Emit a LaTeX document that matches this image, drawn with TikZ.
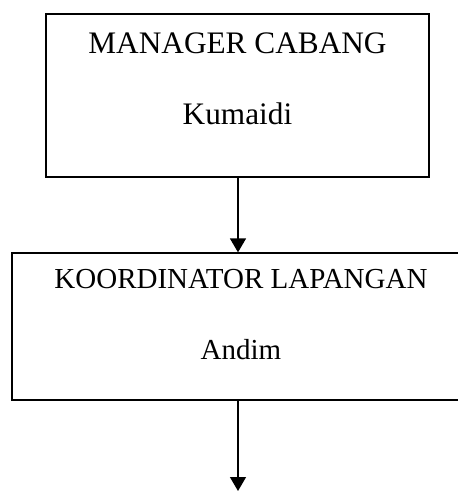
\documentclass[tikz,border=0pt]{standalone}
\usepackage{fontspec}
\setmainfont{Liberation Serif}
\usetikzlibrary{arrows.meta,positioning}

\begin{document}
\begin{tikzpicture}[x=1pt,y=1pt]

      % Styles for the boxes, the texts inside them and the arrows
      \tikzstyle{box}=[draw,line width=1.3pt,rectangle,inner sep=0pt]
      \tikzstyle{boxtext}=[inner sep=0pt,font=\fontsize{31.3}{38}\selectfont]
      \tikzstyle{smalltext}=[inner sep=0pt,font=\fontsize{29}{35}\selectfont]
      \tikzstyle{link}=[line width=1.4pt,-{Triangle[width=16pt,length=14pt]}]

      % Dimensions
      \def\gap{70.5}      % Distance between the two text lines of a box

      \useasboundingbox (0,0) rectangle (458,-491);

      % Manager box
      \node[box,minimum width=383pt,minimum height=163pt] (manager) at (237.5,-95.5) {};
      \node[boxtext] (managertitle) at ([yshift=-30pt]manager.north) {MANAGER CABANG};
      \node[boxtext] (managername) at ([yshift=-\gap pt]managertitle.center) {Kumaidi};

      % Coordinator box
      \node[box,minimum width=452pt,minimum height=147pt] (koordinator) at (238,-326.5) {};
      \node[smalltext] (koordinatortitle) at ([xshift=3pt,yshift=-27pt]koordinator.north) {KOORDINATOR LAPANGAN};
      \node[smalltext] (koordinatorname) at ([yshift=-\gap pt]koordinatortitle.center) {Andim};

      \coordinate (bottomend) at (238,-491);

      % Arrows
      \draw[link] (manager.south -| koordinator.north) -- (koordinator.north);
      \draw[link] (koordinator.south) -- (bottomend);

   \end{tikzpicture}
\end{document}
